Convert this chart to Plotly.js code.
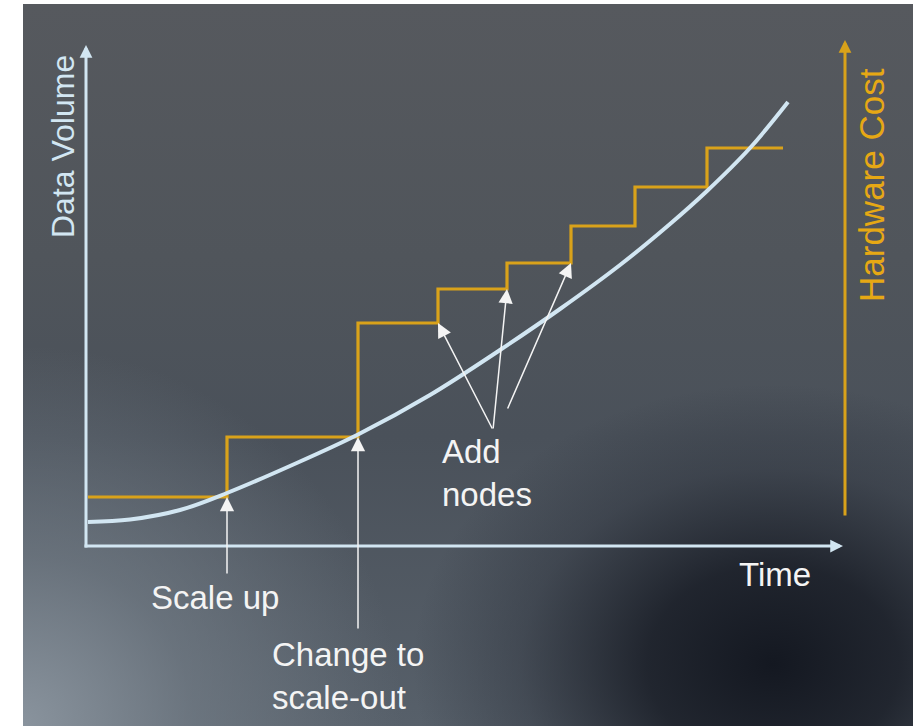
<!DOCTYPE html>
<html>
<head>
<meta charset="utf-8">
<script src="https://cdn.plot.ly/plotly-3.0.1.min.js"></script>
<style>
  html, body { margin:0; padding:0; background:#ffffff; }
  #wrap { position:relative; width:916px; height:726px; overflow:hidden; background:#ffffff; }
  #bg { position:absolute; left:23px; top:4px; width:890px; height:722px;
    background:
      radial-gradient(ellipse 360px 280px at 750px 660px, rgba(20,24,33,1) 0%, rgba(24,28,37,0.85) 35%, rgba(40,45,55,0.4) 70%, rgba(60,66,75,0) 100%),
      radial-gradient(ellipse 380px 380px at 0px 722px, rgba(140,150,160,0.95) 0%, rgba(120,130,140,0.6) 45%, rgba(100,110,120,0) 100%),
      linear-gradient(to bottom, #56595e 0%, #50555b 35%, #4a515a 60%, #57606a 100%);
  }
  #chart { position:absolute; left:0; top:0; width:916px; height:726px; }
</style>
</head>
<body>
<div id="wrap"><div id="bg"></div><div id="chart"></div></div>
<script>
// Data (arbitrary units)
var curveTime   = [0, 4.2, 9.2, 13.9, 20.2, 27.0, 34.2, 41.2, 47.2, 53.2, 58.2, 61.9, 66.2, 70.0];
var curveVolume = [2.6, 2.85, 3.8, 5.5, 8.2, 11.35, 15.3, 19.8, 23.9, 28.3, 32.4, 35.7, 40.0, 44.6];

var stepTime = [0, 13.9, 27.0, 35.0, 41.9, 48.3, 54.7, 61.9, 69.5];
var stepCost = [5.1, 11.1, 22.5, 25.9, 28.5, 32.2, 36.1, 40.0, 40.0];

var axisLabels = {y: "Data Volume", y2: "Hardware Cost", x: "Time"};
var noteScaleUp = "Scale up";
var noteScaleOut = "Change to<br>scale-out";
var noteAddNodes = "Add<br>nodes";

var BLUE = "#d2e6f2";
var ORANGE = "#d9a21a";
var WHITE = "#f4f4f4";
var FONT = "Liberation Sans, Arial, sans-serif";

var traces = [
  {x: stepTime, y: stepCost, type: "scatter", mode: "lines",
   line: {shape: "hv", color: ORANGE, width: 3.2}, hoverinfo: "skip"},
  {x: curveTime, y: curveVolume, type: "scatter", mode: "lines",
   line: {shape: "spline", smoothing: 1, color: BLUE, width: 4}, hoverinfo: "skip"}
];

function arrow(xv, yv, ax, ay, color, w, size) {
  return {x: xv, y: yv, xref: "x", yref: "y", ax: ax, ay: ay, axref: "pixel", ayref: "pixel",
          showarrow: true, arrowhead: 2, arrowsize: size, arrowwidth: w, arrowcolor: color, text: ""};
}
function label(text, px, py, size, color, opts) {
  var a = {text: text, x: px / 916, y: 1 - py / 726, xref: "paper", yref: "paper",
           showarrow: false, font: {family: FONT, size: size, color: color},
           xanchor: "center", yanchor: "middle"};
  for (var k in (opts || {})) a[k] = opts[k];
  return a;
}

var annotations = [
  // axes
  arrow(-0.2, 50.3, 0, 504, BLUE, 3, 0.85),
  arrow(75.5, 0.2, -760, 0, BLUE, 3, 0.85),
  arrow(75.7, 50.8, 0, 477, ORANGE, 3, 0.85),
  // pointers to step changes
  arrow(stepTime[1], stepCost[0], 0, 78, WHITE, 1.5, 1.9),
  arrow(stepTime[2], stepCost[1], 0, 193, WHITE, 1.5, 1.9),
  arrow(stepTime[3], stepCost[2], 55, 107, WHITE, 1.5, 1.9),
  arrow(stepTime[4], stepCost[3], -14, 141, WHITE, 1.5, 1.9),
  arrow(stepTime[5], stepCost[4], -64, 147, WHITE, 1.5, 1.9),
  // labels
  label(axisLabels.y, 63, 146, 32, BLUE, {textangle: -90}),
  label(axisLabels.y2, 871, 185, 35, "#e6a814", {textangle: -90}),
  label(axisLabels.x, 775, 574, 33, WHITE),
  label(noteScaleUp, 215, 597, 33, WHITE),
  label(noteScaleOut, 270, 676, 33, WHITE, {xanchor: "left", align: "left"}),
  label(noteAddNodes, 440, 473, 33, WHITE, {xanchor: "left", align: "left"})
];

var layout = {
  width: 916, height: 726,
  margin: {l: 0, r: 0, t: 0, b: 0},
  paper_bgcolor: "rgba(0,0,0,0)", plot_bgcolor: "rgba(0,0,0,0)",
  showlegend: false,
  xaxis: {range: [-8.8, 82.8], visible: false, fixedrange: true},
  yaxis: {range: [-17.8, 54.8], visible: false, fixedrange: true},
  annotations: annotations,
  font: {family: FONT}
};

Plotly.newPlot("chart", traces, layout, {displayModeBar: false, staticPlot: true});
</script>
</body>
</html>
